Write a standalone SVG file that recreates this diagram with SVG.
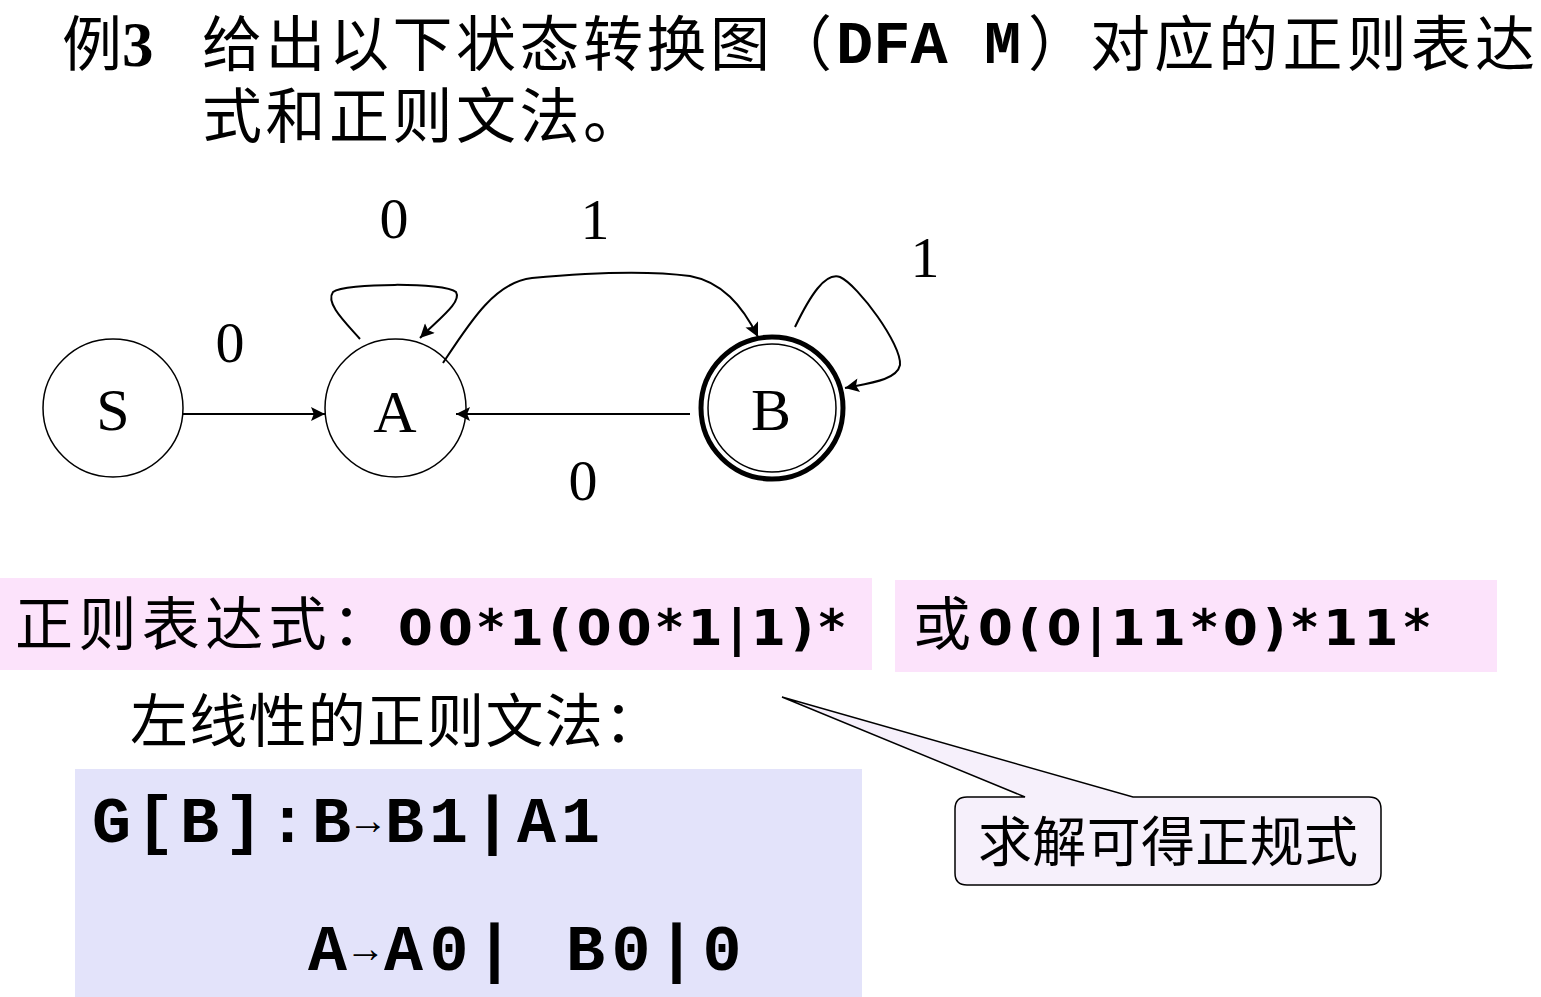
<svg xmlns="http://www.w3.org/2000/svg" width="1541" height="997" viewBox="0 0 1541 997">
<style>
.cjk{font-family:"Noto Sans CJK SC","Noto Sans",sans-serif;fill:#000}
.tm{font-family:"Liberation Serif",serif;fill:#000}
.mono{font-family:"Liberation Mono",monospace;font-weight:bold;fill:#000}
.sans{font-family:"DejaVu Sans",sans-serif;font-weight:bold;fill:#000}
.node{fill:#fff;stroke:#000;stroke-width:1.5}
.edge{fill:none;stroke:#000;stroke-width:2}
</style>
<defs>
<marker id="arr" viewBox="0 0 10 10" refX="10" refY="5" markerWidth="16" markerHeight="14" markerUnits="userSpaceOnUse" orient="auto">
<path d="M0,0 L10,5 L0,10 L2,5 z" fill="#000"/>
</marker>
</defs>
<rect width="1541" height="997" fill="#fff"/>
<g id="title">
<text class="cjk" x="62" y="66" font-size="60">例</text>
<text class="tm" x="122" y="66" font-size="63" font-weight="bold">3</text>
<text class="cjk" x="202" y="66" font-size="60" textLength="568" lengthAdjust="spacing">给出以下状态转换图</text>
<text class="cjk" x="772" y="66" font-size="60">（</text>
<text class="mono" x="836" y="63" font-size="62">DFA</text>
<text class="mono" x="984" y="63" font-size="62">M</text>
<text class="cjk" x="1028" y="66" font-size="60">）</text>
<text class="cjk" x="1090" y="66" font-size="60" textLength="445" lengthAdjust="spacing">对应的正则表达</text>
<text class="cjk" x="202" y="138" font-size="60" textLength="441" lengthAdjust="spacing">式和正则文法。</text>
</g>
<g id="node-S">
<ellipse class="node" cx="113" cy="408" rx="70" ry="69"/>
<text class="tm" x="113" y="430" font-size="60" text-anchor="middle">S</text>
</g>
<g id="node-A">
<ellipse class="node" cx="395.5" cy="408" rx="70.5" ry="69"/>
<text class="tm" x="395" y="432" font-size="60" text-anchor="middle">A</text>
</g>
<g id="node-B">
<circle cx="772" cy="408" r="71" fill="#fff" stroke="#000" stroke-width="5"/>
<circle cx="772" cy="408" r="64" fill="none" stroke="#000" stroke-width="1.5"/>
<text class="tm" x="771" y="430" font-size="60" text-anchor="middle">B</text>
</g>
<g id="connectors">
<line class="edge" x1="183" y1="414" x2="325" y2="414" marker-end="url(#arr)"/>
<line class="edge" x1="690" y1="414" x2="456" y2="414" marker-end="url(#arr)"/>
<path class="edge" d="M360,339 C345,322 325,303 333,292 C345,283 445,282 456,292 C462,302 440,318 420,338" marker-end="url(#arr)"/>
<path class="edge" d="M443,363 C470,322 495,282 532,278 C585,273 645,270 690,276 C722,282 742,305 758,337" marker-end="url(#arr)"/>
<path class="edge" d="M795,327 C810,296 825,272 840,277 C858,285 902,345 900,365 C897,380 870,383 845,388" marker-end="url(#arr)"/>
<text class="tm" x="230" y="362" font-size="58" text-anchor="middle">0</text>
<text class="tm" x="394" y="238" font-size="58" text-anchor="middle">0</text>
<text class="tm" x="595" y="239" font-size="58" text-anchor="middle">1</text>
<text class="tm" x="925" y="277" font-size="58" text-anchor="middle">1</text>
<text class="tm" x="583" y="500" font-size="58" text-anchor="middle">0</text>
</g>
<g id="regex1">
<rect x="0" y="578" width="872" height="92" fill="#fce3fb"/>
<text class="cjk" x="15" y="645" font-size="58" textLength="375" lengthAdjust="spacing">正则表达式：</text>
<text class="sans" x="398" y="645" font-size="50" textLength="447" lengthAdjust="spacing">00*1(00*1|1)*</text>
</g>
<g id="regex2">
<rect x="895" y="580" width="602" height="92" fill="#fce3fb"/>
<text class="cjk" x="913" y="645" font-size="58">或</text>
<text class="sans" x="978" y="645" font-size="50" textLength="452" lengthAdjust="spacing">0(0|11*0)*11*</text>
</g>
<g id="grammar-label">
<text class="cjk" x="130" y="742" font-size="58" textLength="532" lengthAdjust="spacing">左线性的正则文法：</text>
</g>
<g id="grammar">
<rect x="75" y="769" width="787" height="228" fill="#e3e3fa"/>
<text class="mono" x="92" y="842" font-size="65" letter-spacing="5">G[B]:B<tspan font-size="40" dy="-8">→</tspan><tspan dy="8">B1|A1</tspan></text>
<text class="mono" x="308" y="970" font-size="65" letter-spacing="6.5">A<tspan font-size="40" dy="-8">→</tspan><tspan dy="8">A0| B0|0</tspan></text>
</g>
<g id="callout">
<path d="M967,797 L1025,797 L782,697 L1133,797 L1369,797 Q1381,797 1381,809 L1381,873 Q1381,885 1369,885 L967,885 Q955,885 955,873 L955,809 Q955,797 967,797 Z" fill="#f6f0fb" stroke="#000" stroke-width="1.5"/>
<text class="cjk" x="978" y="862" font-size="54" textLength="380" lengthAdjust="spacing">求解可得正规式</text>
</g>
</svg>
